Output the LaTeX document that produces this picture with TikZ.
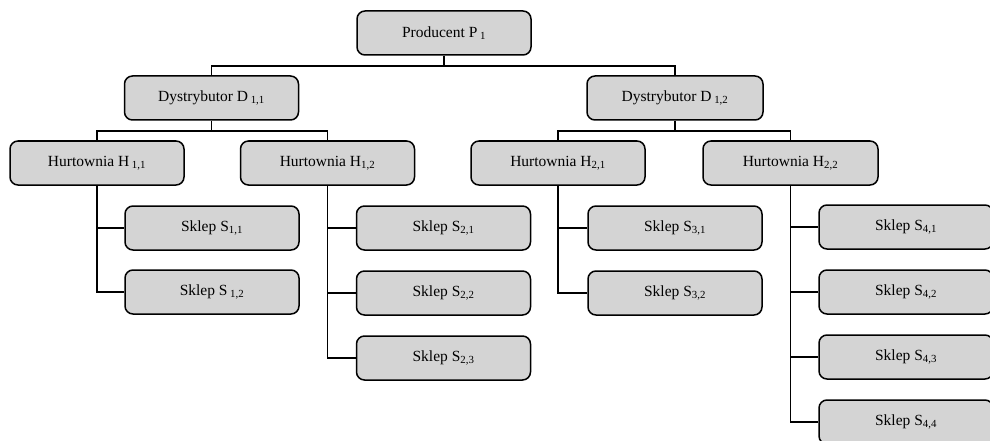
\documentclass[tikz,border=0pt]{standalone}
\usepackage{fontspec}
\setmainfont{Liberation Serif}
\begin{document}
\begin{tikzpicture}[x=1pt,y=-1pt,
  box/.style={draw=black, line width=1.5pt, fill=boxgray, rounded corners=8pt,
    minimum width=174pt, minimum height=44pt, inner sep=0pt,
    font=\fontsize{15.5}{18}\selectfont},
  conn/.style={draw=black, line width=1.5pt}]
\definecolor{boxgray}{RGB}{212,212,212}
\useasboundingbox (0,0) rectangle (990,441);
\node[box] (P) at (444,33) {Producent P\,\textsubscript{1}};
\node[box] (D11) at (211.5,98) {Dystrybutor D\,\textsubscript{1,1}};
\node[box, minimum width=176pt] (D12) at (675,98) {Dystrybutor D\,\textsubscript{1,2}};
\node[box] (H11) at (97,163) {Hurtownia H\,\textsubscript{1,1}};
\node[box] (H12) at (327.5,163) {Hurtownia H\textsubscript{1,2}};
\node[box] (H21) at (558,163) {Hurtownia H\textsubscript{2,1}};
\node[box, minimum width=175pt] (H22) at (790.5,163) {Hurtownia H\textsubscript{2,2}};
\node[box] (S11) at (212,228) {Sklep S\textsubscript{1,1}};
\node[box] (S12) at (212,292) {Sklep S\,\textsubscript{1,2}};
\node[box] (S21) at (443.5,228) {Sklep S\textsubscript{2,1}};
\node[box] (S22) at (443.5,293) {Sklep S\textsubscript{2,2}};
\node[box] (S23) at (443.5,358) {Sklep S\textsubscript{2,3}};
\node[box] (S31) at (675,228) {Sklep S\textsubscript{3,1}};
\node[box] (S32) at (675,293) {Sklep S\textsubscript{3,2}};
\node[box] (S41) at (906,227) {Sklep S\textsubscript{4,1}};
\node[box] (S42) at (906,292) {Sklep S\textsubscript{4,2}};
\node[box] (S43) at (906,357) {Sklep S\textsubscript{4,3}};
\node[box] (S44) at (906,422) {Sklep S\textsubscript{4,4}};
% producer to distributors
\coordinate (busP) at (444,66);
\draw[conn] (P.south) -- (busP);
\draw[conn] (busP) -| (D11.north);
\draw[conn] (busP) -| (D12.north);
% distributors to wholesalers
\coordinate (busL) at (211.5,131);
\coordinate (busR) at (675,131);
\draw[conn] (D11.south) -- (busL);
\draw[conn] (busL) -| (H11.north);
\draw[conn] (busL) -| (H12.north);
\draw[conn] (D12.south) -- (busR);
\draw[conn] (busR) -| (H21.north);
\draw[conn] (busR) -| (H22.north);
% wholesalers to shops
\draw[conn] (H11.south) |- (S11.west);
\draw[conn] (H11.south) |- (S12.west);
\draw[conn] (H12.south) |- (S21.west);
\draw[conn] (H12.south) |- (S22.west);
\draw[conn] (H12.south) |- (S23.west);
\draw[conn] (H21.south) |- (S31.west);
\draw[conn] (H21.south) |- (S32.west);
\draw[conn] (H22.south) |- (S41.west);
\draw[conn] (H22.south) |- (S42.west);
\draw[conn] (H22.south) |- (S43.west);
\draw[conn] (H22.south) |- (S44.west);
\end{tikzpicture}
\end{document}
